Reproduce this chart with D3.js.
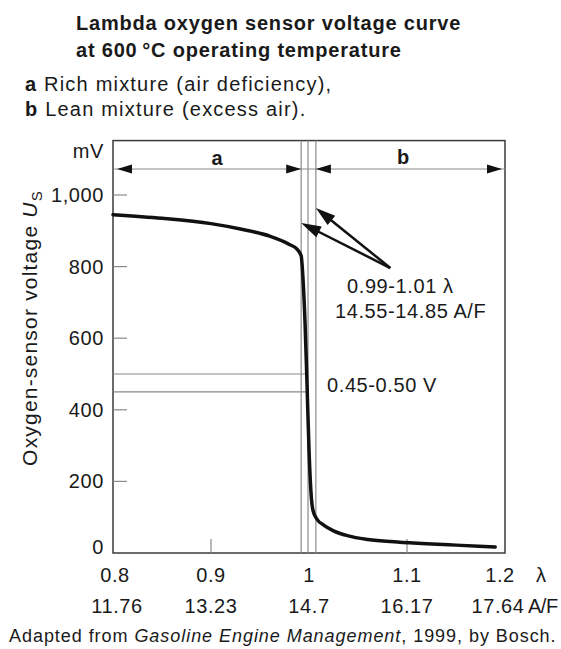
<!DOCTYPE html>
<html>
<head>
<meta charset="utf-8">
<style>
  body { margin: 0; background: #fff; }
  svg text { font-family: 'Liberation Sans', Arial, sans-serif; fill: #1a1a1a; }
  .tick-label { font-size: 20px; letter-spacing: 0.6px; }
  .gray { stroke: #8a8a8a; stroke-width: 1.2; fill: none; }
</style>
<title>Lambda oxygen sensor voltage curve</title>
</head>
<body>
<svg width="561" height="649"></svg>
<script src="https://cdn.jsdelivr.net/npm/d3@7"></script>
<script>

// curve: lambda vs sensor voltage (mV)
var lambda = [0.80, 0.85, 0.90, 0.93, 0.96, 0.98, 0.988, 0.992, 0.994, 0.996, 0.998, 1.000, 1.002, 1.004, 1.008, 1.015, 1.025, 1.04, 1.06, 1.09, 1.12, 1.15, 1.19];
var voltage = [945, 935, 920, 905, 885, 862, 848, 830, 760, 640, 470, 290, 170, 120, 95, 78, 62, 48, 38, 31, 26, 22, 17];

var xTicks = [0.8, 0.9, 1.0, 1.1, 1.2];
var afLabels = ["11.76", "13.23", "14.7", "16.17", "17.64"];
var yTicks = [0, 200, 400, 600, 800, 1000];

var windowLambda = [0.992, 0.999, 1.007];   // the three thin vertical lines
var windowVolts = [450, 500];               // the two thin horizontal lines
var yTop = 1152;                            // top of the frame in mV

// annotation arrows: tail and tips in data units
var arrowTail = [1.083, 796];
var arrowTips = [[0.992, 922], [1.007, 964]];

var svg = d3.select("svg");

var x = d3.scaleLinear().domain([0.8, 1.2]).range([113, 505]),
    y = d3.scaleLinear().domain([0, 1000]).range([553, 195]);

// title + legend text
var head = svg.append("g");
head.append("text").attr("x", 76).attr("y", 30)
    .style("font-weight", "bold").style("font-size", "20px").style("letter-spacing", "0.8px")
    .text("Lambda oxygen sensor voltage curve");
head.append("text").attr("x", 76).attr("y", 57)
    .style("font-weight", "bold").style("font-size", "20px").style("letter-spacing", "0.8px")
    .text("at 600\u2009°C operating temperature");

[["a", " Rich mixture (air deficiency),", 91], ["b", " Lean mixture (excess air).", 116]].forEach(function(r) {
  var t = head.append("text").attr("x", 25).attr("y", r[2])
      .style("font-size", "20px").style("letter-spacing", "1.2px");
  t.append("tspan").style("font-weight", "bold").text(r[0]);
  t.append("tspan").text(r[1]);
});

// frame
svg.append("rect")
    .attr("x", x(0.8)).attr("y", y(yTop))
    .attr("width", x(1.2) - x(0.8)).attr("height", y(0) - y(yTop))
    .attr("fill", "none").attr("stroke", "#3a3a3a").attr("stroke-width", 1.5);

// thin guide lines
svg.selectAll(".vline").data(windowLambda).enter().append("line")
    .attr("class", "gray")
    .attr("x1", function(d) { return x(d); }).attr("x2", function(d) { return x(d); })
    .attr("y1", y(yTop)).attr("y2", y(0));

svg.selectAll(".hline").data(windowVolts).enter().append("line")
    .attr("class", "gray")
    .attr("x1", x(0.8)).attr("x2", x(windowLambda[1]))
    .attr("y1", function(d) { return y(d); }).attr("y2", function(d) { return y(d); });

// y axis: ticks inside the frame
var yAxis = svg.append("g");
yAxis.selectAll("line").data(yTicks.slice(1)).enter().append("line")
    .attr("class", "gray")
    .attr("x1", x(0.8)).attr("x2", x(0.8) + 14)
    .attr("y1", function(d) { return y(d); }).attr("y2", function(d) { return y(d); });
yAxis.selectAll("text").data(yTicks).enter().append("text")
    .attr("class", "tick-label")
    .attr("x", 104).attr("y", function(d) { return y(d) - (d === 0 ? 6 : 0); })
    .attr("dy", "0.35em").attr("text-anchor", "end")
    .text(d3.format(","));
svg.append("text").attr("class", "tick-label")
    .attr("x", 104).attr("y", 158).attr("text-anchor", "end").text("mV");

var ytitle = svg.append("text")
    .attr("transform", "translate(37,328) rotate(-90)")
    .attr("text-anchor", "middle")
    .style("font-size", "21px").style("letter-spacing", "1.2px");
ytitle.append("tspan").text("Oxygen-sensor voltage ");
ytitle.append("tspan").style("font-style", "italic").text("U");
ytitle.append("tspan").attr("dy", 5).style("font-size", "15px").text("S");

// x axis: ticks up from the bottom
svg.selectAll(".xtick").data([0.9, 1.1]).enter().append("line")
    .attr("class", "gray")
    .attr("x1", function(d) { return x(d); }).attr("x2", function(d) { return x(d); })
    .attr("y1", y(0)).attr("y2", y(0) - 14);

var fmt = function(d) { return d === 1 ? "1" : d3.format(".1f")(d); };
svg.selectAll(".xl").data(xTicks).enter().append("text")
    .attr("class", "tick-label")
    .attr("x", function(d, i) { return x(d) + (i === 0 ? 2 : 0) - (i === 4 ? 5 : 0); })
    .attr("y", 582).attr("text-anchor", "middle")
    .text(fmt);
svg.selectAll(".af").data(afLabels).enter().append("text")
    .attr("class", "tick-label")
    .attr("x", function(d, i) { return x(xTicks[i]) + (i === 0 ? 4 : 0) - (i === 4 ? 7 : 0); })
    .attr("y", 613).attr("text-anchor", "middle")
    .text(function(d) { return d; });
svg.append("text").attr("class", "tick-label").attr("x", 536).attr("y", 582).text("λ");
svg.append("text").attr("class", "tick-label").attr("x", 528).attr("y", 613)
    .style("letter-spacing", "-0.5px").text("A/F");

// range arrows a / b
var arrowY = 169;
svg.append("line").attr("class", "gray")
    .attr("x1", x(0.8)).attr("x2", x(1.2)).attr("y1", arrowY).attr("y2", arrowY);

function head2(tx, ty, dx, dy, len, half) {
  // triangle with tip at (tx,ty) pointing along (dx,dy)
  var n = Math.sqrt(dx * dx + dy * dy); dx /= n; dy /= n;
  var bx = tx - dx * len, by = ty - dy * len;
  return "M" + tx + "," + ty +
         "L" + (bx - dy * half) + "," + (by + dx * half) +
         "L" + (bx + dy * half) + "," + (by - dx * half) + "Z";
}

var rangeHeads = [[x(0.8) + 4, -1], [x(windowLambda[0]), 1], [x(windowLambda[2]), -1], [x(1.2) - 3, 1]];
svg.selectAll(".rh").data(rangeHeads).enter().append("path")
    .attr("d", function(d) { return head2(d[0], arrowY, d[1], 0, 15, 4.5); })
    .attr("fill", "#111");

svg.append("text").attr("x", 217).attr("y", 165).attr("text-anchor", "middle")
    .style("font-size", "20px").style("font-weight", "bold").text("a");
svg.append("text").attr("x", 403).attr("y", 164).attr("text-anchor", "middle")
    .style("font-size", "20px").style("font-weight", "bold").text("b");

// the curve
var pts = lambda.map(function(l, i) { return [l, voltage[i]]; });
svg.append("path")
    .datum(pts)
    .attr("fill", "none").attr("stroke", "#111").attr("stroke-width", 3.5)
    .attr("stroke-linecap", "round")
    .attr("d", d3.line()
        .x(function(d) { return x(d[0]); })
        .y(function(d) { return y(d[1]); })
        .curve(d3.curveMonotoneX));

// annotation arrows
arrowTips.forEach(function(t) {
  var x0 = x(arrowTail[0]), y0 = y(arrowTail[1]), x1 = x(t[0]), y1 = y(t[1]);
  var dx = x1 - x0, dy = y1 - y0, n = Math.sqrt(dx * dx + dy * dy);
  svg.append("line")
      .attr("x1", x0).attr("y1", y0)
      .attr("x2", x1 - dx / n * 14).attr("y2", y1 - dy / n * 14)
      .attr("stroke", "#111").attr("stroke-width", 2.5);
  svg.append("path").attr("d", head2(x1, y1, dx, dy, 20, 6)).attr("fill", "#111");
});

svg.append("text").attr("class", "tick-label").attr("x", 347).attr("y", 293).text("0.99-1.01 λ");
svg.append("text").attr("class", "tick-label").attr("x", 335).attr("y", 318).text("14.55-14.85 A/F");
svg.append("text").attr("class", "tick-label").attr("x", 327).attr("y", 392).text("0.45-0.50 V");

// source line
var src = svg.append("text").attr("x", 9).attr("y", 642)
    .style("font-size", "18px").style("letter-spacing", "0.95px");
src.append("tspan").text("Adapted from ");
src.append("tspan").style("font-style", "italic").text("Gasoline Engine Management");
src.append("tspan").text(", 1999, by Bosch.");

</script>
</body>
</html>
